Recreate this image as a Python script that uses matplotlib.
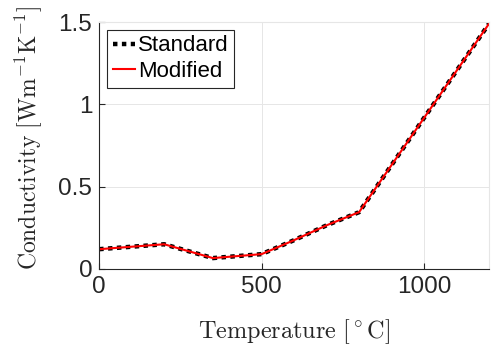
import matplotlib
matplotlib.use("Agg")
import matplotlib.pyplot as plt

# conductivity vs temperature, both curves identical
temperature = [0, 200, 350, 500, 600, 700, 800, 1200]
standard = [0.12, 0.15, 0.066, 0.09, 0.175, 0.265, 0.345, 1.49]
modified = [0.12, 0.15, 0.066, 0.09, 0.175, 0.265, 0.345, 1.49]

x_ticks = [0, 500, 1000]
y_ticks = [0, 0.5, 1, 1.5]
y_tick_labels = ["0", "0.5", "1", "1.5"]

plt.rcParams["font.family"] = ["Liberation Sans", "DejaVu Sans"]
plt.rcParams["mathtext.fontset"] = "cm"

fig = plt.figure(figsize=(4.91, 3.61), dpi=100)
ax = fig.add_axes([0.202, 0.255, 0.794, 0.684])

ax.plot(temperature, standard, color="black", linestyle=(0, (1.0, 1.0)), linewidth=3.2, label="Standard")
ax.plot(temperature, modified, color="red", linestyle="-", linewidth=1.5, label="Modified")

ax.set_xlim(0, 1200)
ax.set_ylim(0, 1.5)
ax.set_xticks(x_ticks)
ax.set_xticklabels([str(t) for t in x_ticks])
ax.set_yticks(y_ticks)
ax.set_yticklabels(y_tick_labels)

ax.grid(True, color="#e6e6e6", linewidth=0.7)
ax.set_axisbelow(True)
for s in ax.spines.values():
    s.set_color("#262626")
    s.set_linewidth(0.8)
ax.spines["top"].set_color("#e6e6e6")
ax.spines["right"].set_color("#e6e6e6")
ax.tick_params(direction="in", length=4, width=0.8, color="#262626",
               labelsize=17.5, labelcolor="#262626", pad=5, top=False, right=False)

ax.set_xlabel(r"$\mathrm{Temperature}\ [^\circ\mathrm{C}]$", fontsize=17.5, color="#262626", labelpad=14)
ax.set_ylabel(r"$\mathrm{Conductivity}\ [\mathrm{Wm^{-1}K^{-1}}]$", fontsize=17, color="#262626")
ax.yaxis.set_label_coords(-0.14, 0.53)

leg = ax.legend(loc="upper left", fontsize=16, handlelength=1.0, handletextpad=0.15,
                borderpad=0.25, labelspacing=0.22, borderaxespad=0.35, fancybox=False, framealpha=1)
leg.get_frame().set_edgecolor("#262626")
leg.get_frame().set_linewidth(0.8)

fig.savefig("out.png", dpi=100)
